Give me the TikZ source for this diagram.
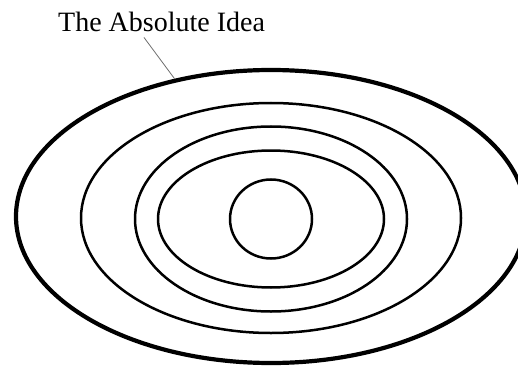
\documentclass[tikz,border=0pt]{standalone}
\usepackage{fontspec}
\setmainfont{Liberation Serif}
\usepackage{tikz}
\usetikzlibrary{shapes.geometric, positioning, calc}
\definecolor{mydark}{RGB}{0,0,0}
\definecolor{mygray}{RGB}{110,110,110}
\tikzset{
  ring/.style={ellipse, draw=mydark, line width=2.5pt, inner sep=0pt},
  outerring/.style={ellipse, draw=mydark, line width=4.2pt, inner sep=0pt},
  label/.style={inner sep=0pt, font=\fontsize{28}{32}\selectfont, color=mydark},
  leader/.style={line width=0.8pt, color=mygray}
}
\begin{document}
\begin{tikzpicture}[x=1pt, y=-1pt]
  \clip (0,0) rectangle (518,366);
  % Nested rings
  \node[outerring, minimum width=510pt, minimum height=293pt] (outer) at (271,216.5) {};
  \node[ring, minimum width=380pt, minimum height=230pt] (ring2) at (271,218) {};
  \node[ring, minimum width=272pt, minimum height=185pt] (ring3) at (271,219) {};
  \node[ring, minimum width=226pt, minimum height=137pt] (ring4) at (271,219) {};
  \node[ring, minimum width=82pt, minimum height=79pt] (core) at (271,219) {};

  % Label and leader line
  \node[label, anchor=base west] (absidea) at (58,32) {The Absolute Idea};
  \coordinate (tail) at ($(absidea.south west)+(86,5)$);
  \draw[leader] (tail) -- (outer.125);
\end{tikzpicture}
\end{document}
